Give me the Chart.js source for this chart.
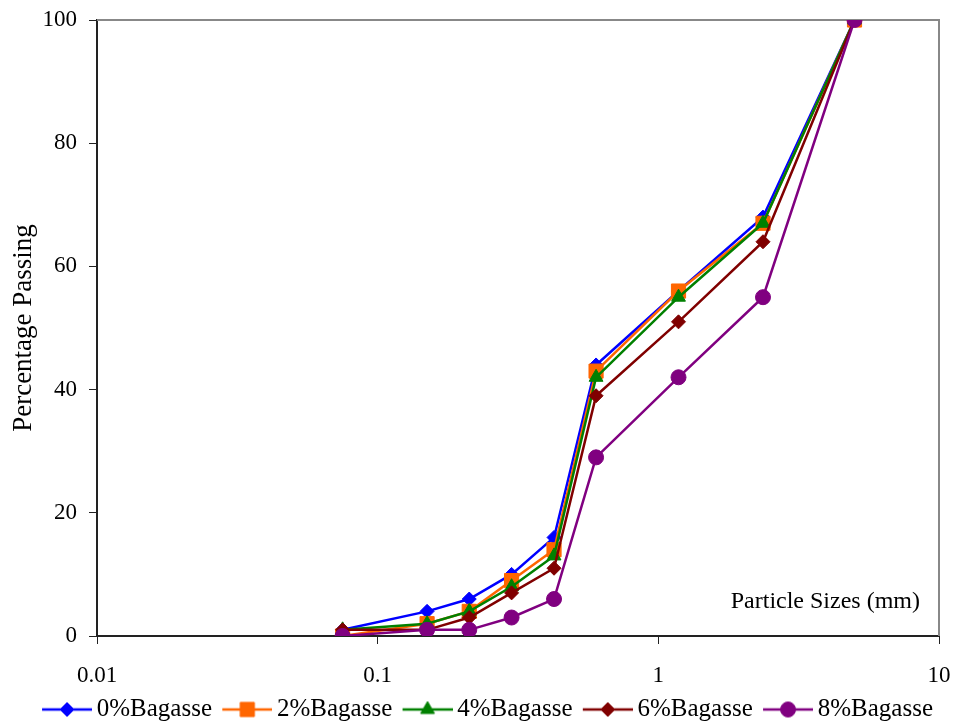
<!DOCTYPE html>
<html>
<head>
<meta charset="utf-8">
<script src="https://cdn.jsdelivr.net/npm/chart.js@4/dist/chart.umd.min.js"></script>
<style>
  html, body { margin: 0; background: #fff; }
</style>
</head>
<body>
<canvas id="sieveChart" width="956" height="727"></canvas>
<script>
// Courbes granulométriques (pourcentage passant selon la taille des particules)

const sizes = [0.075, 0.15, 0.212, 0.3, 0.425, 0.6, 1.18, 2.36, 5];
const xTicks = [0.01, 0.1, 1, 10];
const seriesNames = ['0%Bagasse', '2%Bagasse', '4%Bagasse', '6%Bagasse', '8%Bagasse'];
const bagasse0 = [1, 4, 6, 10, 16, 44, 56, 68, 100];
const bagasse2 = [0, 2, 4, 9, 14, 43, 56, 67, 100];
const bagasse4 = [1, 2, 4, 8, 13, 42, 55, 67, 100];
const bagasse6 = [1, 1, 3, 7, 11, 39, 51, 64, 100];
const bagasse8 = [0, 1, 1, 3, 6, 29, 42, 55, 100];

const couleurs = ['#0000FF', '#FF6600', '#008000', '#800000', '#800080'];
const marqueurs = ['rectRot', 'rect', 'triangle', 'rectRot', 'circle'];
const rayons = [7, 10, 8, 7, 7.5];

Chart.defaults.font.family = "'Liberation Serif', 'Times New Roman', serif";
Chart.defaults.color = '#000';

// petite icône de légende : trait + marqueur
function iconeLegende(color, style, radius) {
  const cv = document.createElement('canvas');
  cv.width = 62;
  cv.height = 22;
  const ctx = cv.getContext('2d');
  ctx.strokeStyle = color;
  ctx.lineWidth = 2.5;
  ctx.beginPath();
  ctx.moveTo(12, 11);
  ctx.lineTo(62, 11);
  ctx.stroke();
  ctx.fillStyle = color;
  ctx.lineWidth = 1;
  Chart.helpers.drawPoint(ctx, { pointStyle: style, radius: radius, borderWidth: 1, rotation: 0 }, 37, 11);
  return cv;
}

const valeurs = [bagasse0, bagasse2, bagasse4, bagasse6, bagasse8];
const datasets = valeurs.map((serie, i) => ({
  label: seriesNames[i],
  data: sizes.map((s, j) => ({ x: s, y: serie[j] })),
  borderColor: couleurs[i],
  backgroundColor: couleurs[i],
  borderWidth: 2.5,
  pointStyle: marqueurs[i],
  pointRadius: rayons[i],
  pointBorderWidth: 1,
  tension: 0,
  order: valeurs.length - 1 - i,
}));
const icones = datasets.map((d, i) => iconeLegende(couleurs[i], marqueurs[i], rayons[i]));

const cadre = {
  id: 'cadre',
  beforeDatasetsDraw(chart) {
    const { ctx, chartArea: a } = chart;
    ctx.save();
    ctx.strokeStyle = '#888';
    ctx.lineWidth = 2;
    ctx.beginPath();
    ctx.moveTo(a.left, a.top);
    ctx.lineTo(a.right, a.top);
    ctx.lineTo(a.right, a.bottom);
    ctx.stroke();
    ctx.restore();
  },
  afterDraw(chart) {
    const { ctx, chartArea: a } = chart;
    ctx.save();
    ctx.font = "24px 'Liberation Serif', 'Times New Roman', serif";
    ctx.fillStyle = '#000';
    ctx.textAlign = 'right';
    ctx.textBaseline = 'alphabetic';
    ctx.fillText('Particle Sizes (mm)', a.right - 19, a.bottom - 28);
    ctx.restore();
  },
};

const axe = {
  grid: { display: true, drawOnChartArea: false, drawTicks: true, tickLength: 8, color: '#222' },
  border: { display: true, color: '#222', width: 2 },
};

// pas de marge automatique pour les étiquettes débordantes
function sansMarge(s) {
  s.paddingLeft = 0;
  s.paddingRight = 0;
  s.paddingTop = 0;
  s.paddingBottom = 0;
}

new Chart(document.getElementById('sieveChart'), {
  type: 'line',
  data: { datasets },
  plugins: [cadre],
  options: {
    responsive: false,
    animation: false,
    layout: { padding: { top: 20, right: 17, bottom: -5, left: 0 } },
    plugins: {
      tooltip: { enabled: false },
      legend: {
        position: 'bottom',
        align: 'end',
        labels: {
          usePointStyle: true,
          pointStyleWidth: 46.5,
          padding: 6,
          color: '#000',
          font: { size: 25 },
          sort: (a, b) => a.datasetIndex - b.datasetIndex,
          generateLabels(chart) {
            const items = Chart.defaults.plugins.legend.labels.generateLabels(chart);
            items.forEach((it) => { it.pointStyle = icones[it.datasetIndex]; });
            return items;
          },
        },
      },
    },
    scales: {
      x: {
        type: 'logarithmic',
        min: 0.01,
        max: 10,
        afterBuildTicks: (s) => { s.ticks = xTicks.map((v) => ({ value: v })); },
        afterFit: (s) => { s.height = 55; sansMarge(s); },
        ticks: {
          callback: (v) => String(v),
          font: { size: 23 },
          padding: 18,
          maxRotation: 0,
          autoSkip: false,
        },
        ...axe,
      },
      y: {
        min: 0,
        max: 100,
        afterFit: (s) => { s.width = 97; sansMarge(s); },
        ticks: { stepSize: 20, font: { size: 23 }, padding: 12 },
        title: {
          display: true,
          text: 'Percentage Passing',
          font: { size: 27 },
          padding: { top: 8, bottom: 0 },
        },
        ...axe,
      },
    },
  },
});
</script>
</body>
</html>
